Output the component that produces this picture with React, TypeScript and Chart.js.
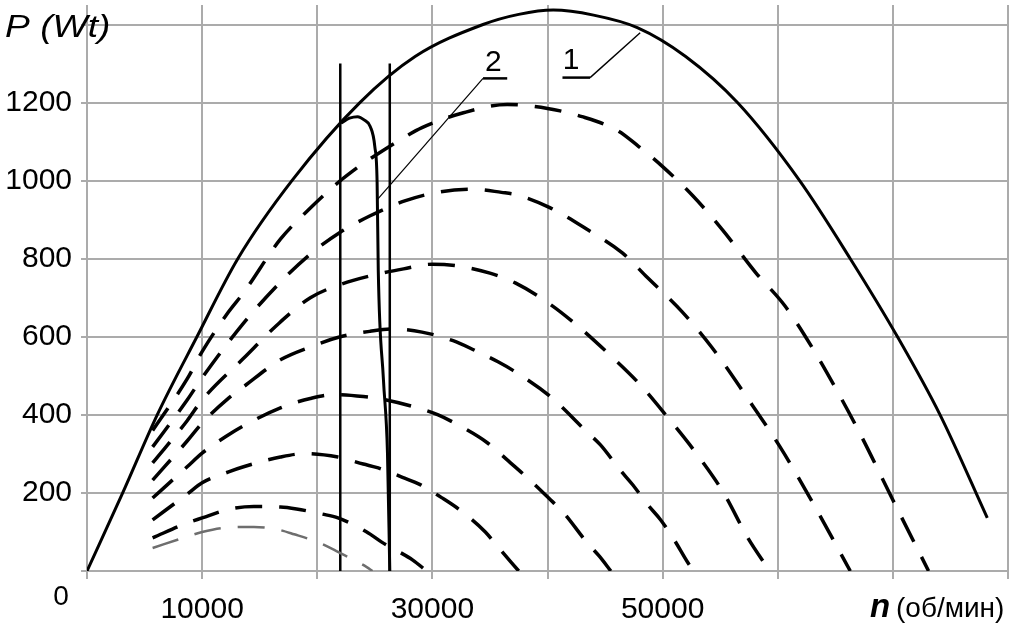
import { useEffect, useRef } from 'react';
import Chart from 'chart.js/auto';

type Pt = [number, number];

// axes
const xTicks = [0, 10000, 20000, 30000, 40000, 50000, 60000, 70000, 80000];
const xLabels = [10000, 30000, 50000];
const yTicks = [0, 200, 400, 600, 800, 1000, 1200, 1400];
const yLabels = [200, 400, 600, 800, 1000, 1200];

// curve 1 (solid envelope), n -> P
const curve1: Pt[] = [
  [0, 0], [3100, 200], [6100, 400], [9550, 600], [13100, 800], [17800, 1000],
  [23700, 1200], [28500, 1318], [34400, 1400], [37500, 1426], [40500, 1437],
  [44000, 1424], [47800, 1392], [52000, 1318], [56500, 1200], [61900, 1000],
  [66300, 800], [70400, 600], [74100, 400], [78200, 136],
];

// curve 2 (solid, breaks off near 25000)
const curve2: Pt[] = [
  [22100, 1148], [22800, 1160], [23500, 1164], [24100, 1155], [24600, 1139],
  [25000, 1087], [25200, 995], [25300, 770], [25750, 490], [26100, 302], [26300, 0],
];

// dashed family, lowest to highest
const dash1: Pt[] = [
  [5700, 59], [8700, 88], [10000, 100], [12000, 111], [14500, 113], [16600, 106],
  [18000, 94], [20200, 72], [21800, 49], [24300, 10], [24800, 0],
];
const dash2: Pt[] = [
  [5700, 85], [8700, 123], [10000, 136], [12300, 158], [14500, 165], [16800, 164],
  [18200, 159], [20400, 146], [21800, 136], [24300, 100], [25600, 74], [26800, 54],
  [28300, 28], [29500, 0],
];
const dash3: Pt[] = [
  [5700, 131], [8700, 197], [10000, 226], [12300, 254], [13600, 267], [16800, 292],
  [19000, 301], [21800, 292], [24000, 274], [25300, 264], [27400, 240], [28900, 222],
  [30800, 188], [32400, 156], [34600, 100], [35600, 65], [37500, 0],
];
const dash4: Pt[] = [
  [5700, 187], [8700, 267], [10000, 302], [12300, 349], [13600, 372], [16800, 418],
  [19400, 442], [21500, 452], [24000, 447], [26000, 438], [28700, 418], [30500, 400],
  [32000, 378], [34800, 328], [36600, 282], [38400, 235], [40100, 187], [41400, 149],
  [43400, 74], [44500, 38], [45500, 0],
];
const dash5: Pt[] = [
  [5700, 233], [8700, 333], [10000, 379], [12300, 443], [13600, 472], [16800, 541],
  [19400, 574], [22000, 600], [24600, 614], [26500, 620], [29100, 612], [31800, 590],
  [33700, 565], [35700, 536], [37000, 514], [40200, 448], [43500, 354], [44600, 323],
  [46300, 259], [47400, 221], [48700, 170], [49800, 132], [51000, 80], [52200, 21],
  [52700, 0],
];
const dash6: Pt[] = [
  [5700, 277], [8700, 385], [10000, 438], [13600, 545], [16800, 638], [19400, 700],
  [22000, 734], [24600, 756], [27500, 774], [30000, 786], [32100, 782], [35000, 763],
  [37200, 738], [40200, 684], [42700, 626], [45400, 554], [47900, 482], [50400, 395],
  [52700, 310], [55300, 200], [57400, 85], [59300, 0],
];
const dash7: Pt[] = [
  [5700, 318], [8700, 438], [10000, 495], [13600, 635], [16800, 740], [19400, 812],
  [22000, 868], [24600, 910], [27600, 948], [30400, 970], [33500, 978], [36000, 970],
  [37300, 964], [40200, 931], [43500, 874], [46500, 815], [48700, 751], [51700, 664],
  [54300, 572], [57300, 446], [60200, 318], [63000, 177], [66300, 0],
];
const dash8: Pt[] = [
  [5700, 360], [8700, 492], [10000, 562], [12300, 664], [13600, 713], [16800, 850],
  [19400, 930], [21600, 990], [23100, 1025], [24400, 1052], [27500, 1110], [29100, 1136],
  [32700, 1174], [36500, 1195], [40000, 1185], [43000, 1164], [46100, 1128], [47900, 1088],
  [50000, 1036], [52600, 962], [55200, 874], [58100, 764], [60600, 680], [63000, 572],
  [65200, 459], [67200, 349], [70000, 182], [73100, 0],
];

// vertical marker lines
const vLine1: Pt[] = [[22000, 0], [22000, 1300]];
const vLine2: Pt[] = [[26300, 0], [26300, 1300]];

// callouts "1" and "2"
const under1: Pt[] = [[41300, 1264], [43700, 1264]];
const leader1: Pt[] = [[43700, 1264], [48050, 1379]];
const label1: Pt = [42050, 1285];
const under2: Pt[] = [[34400, 1262], [36500, 1262]];
const leader2: Pt[] = [[34400, 1262], [25200, 951]];
const label2: Pt = [35300, 1280];

const FONT = "'Liberation Sans', Arial, sans-serif";

const toXY = (pts: Pt[]) => pts.map(([x, y]) => ({ x, y }));

const solid = (pts: Pt[], width: number, smooth = true) => ({
  data: toXY(pts),
  borderColor: '#000',
  borderWidth: width,
  pointRadius: 0,
  cubicInterpolationMode: smooth ? ('monotone' as const) : ('default' as const),
  fill: false,
});

const dashed = (pts: Pt[], color = '#000', width = 3.5) => ({
  data: toXY(pts),
  borderColor: color,
  borderWidth: width,
  borderDash: [27, 17],
  pointRadius: 0,
  cubicInterpolationMode: 'monotone' as const,
  fill: false,
});

const textPlugin = {
  id: 'chartTexts',
  afterDraw(chart: Chart) {
    const { ctx } = chart;
    const x = chart.scales.x;
    const y = chart.scales.y;
    ctx.save();
    ctx.fillStyle = '#000';

    ctx.textAlign = 'left';
    ctx.textBaseline = 'alphabetic';
    ctx.font = `italic 31px ${FONT}`;
    ctx.save();
    ctx.translate(5, 37);
    ctx.scale(1.2, 1);
    ctx.fillText('P (Wt)', 0, 0);
    ctx.restore();

    ctx.font = `italic bold 33px ${FONT}`;
    ctx.fillText('n', 870, 617);
    ctx.font = `28px ${FONT}`;
    ctx.fillText('(об/мин)', 896, 617);

    ctx.textAlign = 'center';
    ctx.textBaseline = 'middle';
    ctx.font = `28px ${FONT}`;
    ctx.fillText('0', 61, 597);

    ctx.textBaseline = 'alphabetic';
    ctx.font = `30px ${FONT}`;
    ctx.fillText('1', x.getPixelForValue(label1[0]), y.getPixelForValue(label1[1]));
    ctx.fillText('2', x.getPixelForValue(label2[0]), y.getPixelForValue(label2[1]));
    ctx.restore();
  },
};

export default function App() {
  const canvasRef = useRef<HTMLCanvasElement>(null);
  const chartRef = useRef<Chart | null>(null);

  useEffect(() => {
    if (!canvasRef.current) return;
    if (chartRef.current) chartRef.current.destroy();

    chartRef.current = new Chart(canvasRef.current, {
      type: 'line',
      data: {
        datasets: [
          dashed(dash1, '#6e6e6e', 2.5),
          dashed(dash2),
          dashed(dash3),
          dashed(dash4),
          dashed(dash5),
          dashed(dash6),
          dashed(dash7),
          dashed(dash8),
          solid(vLine1, 2.5, false),
          solid(vLine2, 2.5, false),
          solid(curve2, 3),
          solid(curve1, 3),
          solid(under1, 2.5, false),
          solid(leader1, 1.4, false),
          solid(under2, 2.5, false),
          solid(leader2, 1.2, false),
        ] as any,
      },
      options: {
        animation: false,
        responsive: true,
        maintainAspectRatio: false,
        layout: { padding: { left: 0, right: 16, top: 5, bottom: 0 } },
        plugins: {
          legend: { display: false },
          tooltip: { enabled: false },
        },
        scales: {
          x: {
            type: 'linear',
            min: 0,
            max: 80000,
            afterBuildTicks: (s: any) => {
              s.ticks = xTicks.map((v) => ({ value: v }));
            },
            afterFit: (s: any) => {
              s.height = 55;
              s.paddingLeft = 0;
              s.paddingRight = 0;
            },
            grid: { color: '#ababab', lineWidth: 2, tickLength: 8 },
            border: { display: false },
            ticks: {
              autoSkip: false,
              maxRotation: 0,
              padding: 13,
              color: '#000',
              font: { family: FONT, size: 30 },
              callback: (v: any) => (xLabels.includes(Number(v)) ? String(v) : ''),
            },
          },
          y: {
            type: 'linear',
            min: 0,
            max: 1450,
            afterBuildTicks: (s: any) => {
              s.ticks = yTicks.map((v) => ({ value: v }));
            },
            afterFit: (s: any) => {
              s.width = 87;
              s.paddingTop = 0;
              s.paddingBottom = 0;
            },
            grid: { color: '#ababab', lineWidth: 2, tickLength: 6 },
            border: { display: false },
            ticks: {
              padding: 9,
              color: '#000',
              font: { family: FONT, size: 30 },
              callback: (v: any) => (yLabels.includes(Number(v)) ? String(v) : ''),
            },
          },
        },
      },
      plugins: [textPlugin as any],
    });

    return () => {
      if (chartRef.current) {
        chartRef.current.destroy();
        chartRef.current = null;
      }
    };
  }, []);

  return (
    <div style={{ position: 'fixed', left: 0, top: 0, width: 1024, height: 626, background: '#fff' }}>
      <canvas ref={canvasRef} />
    </div>
  );
}
